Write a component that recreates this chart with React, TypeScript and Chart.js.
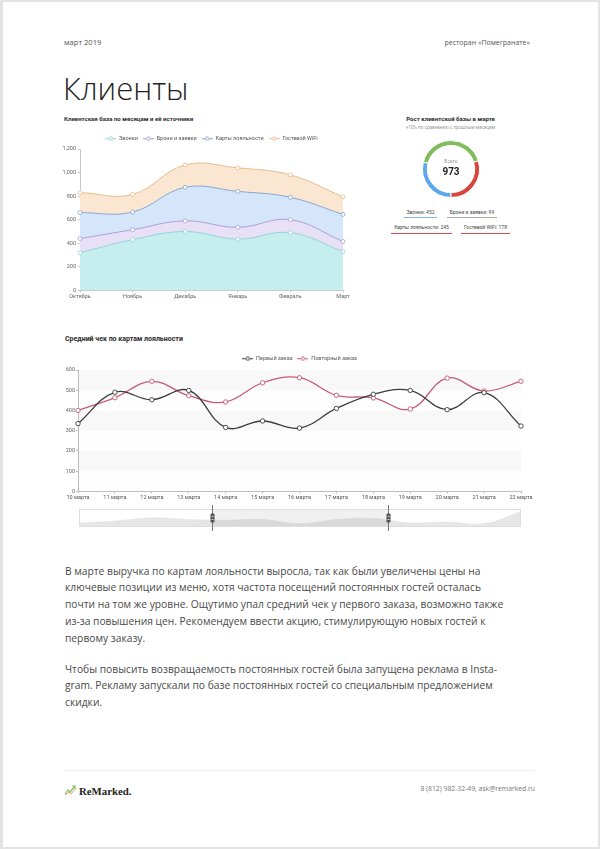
import React, { useEffect, useRef } from 'react';
import { Chart, registerables } from 'chart.js';

Chart.register(...registerables);
Chart.defaults.font.family = 'Roboto, sans-serif';

// ---------- data: area chart ----------
const months = ['Октябрь', 'Ноябрь', 'Декабрь', 'Январь', 'Февраль', 'Март'];
const areaSeriesNames = ['Звонки', 'Брони и заявки', 'Карты лояльности', 'Гостевой WiFi'];
const calls = [320, 430, 500, 435, 490, 330];
const bookings = [120, 85, 90, 100, 110, 85];
const loyaltyCards = [220, 150, 285, 305, 190, 230];
const guestWifi = [170, 150, 190, 200, 190, 150];
const areaYMax = 1200;
const areaYStep = 200;

// ---------- data: doughnut ----------
const donutSegments = [404, 289, 280];
const donutTotalLabel = 'Всего';
const donutTotal = '973';
const donutLegend = ['Звонки: 452', 'Брони и заявки: 99', 'Карты лояльности: 245', 'Гостевой WiFi: 178'];

// ---------- data: line chart ----------
const days = ['10 марта', '11 марта', '12 марта', '13 марта', '14 марта', '15 марта', '16 марта', '17 марта', '18 марта', '19 марта', '20 марта', '21 марта', '22 марта'];
const lineSeriesNames = ['Первый заказ', 'Повторный заказ'];
const firstOrder = [335, 490, 453, 499, 316, 348, 313, 410, 480, 499, 404, 488, 323];
const repeatOrder = [400, 463, 544, 473, 442, 537, 562, 475, 462, 407, 560, 496, 544];
const lineYMax = 600;
const lineYStep = 100;

// ---------- data: zoom slider ----------
const sliderShadow = [12, 18, 27, 22, 20, 22, 10, 22, 25, 12, 15, 10, 45];
const sliderRange = [30, 70];

function makeLegendIcon(color: string) {
  const c = document.createElement('canvas');
  c.width = 11;
  c.height = 5;
  const ctx = c.getContext('2d')!;
  ctx.strokeStyle = color;
  ctx.lineWidth = 1;
  ctx.beginPath();
  ctx.moveTo(0, 2.5);
  ctx.lineTo(11, 2.5);
  ctx.stroke();
  ctx.beginPath();
  ctx.arc(5.5, 2.5, 1.7, 0, Math.PI * 2);
  ctx.fillStyle = '#fff';
  ctx.fill();
  ctx.stroke();
  return c;
}

const legendHeightPlugin = {
  id: 'legendHeight',
  beforeUpdate(chart: any, _a: any, opts: any) {
    const legend = chart.legend;
    if (!legend || legend.__patched || !opts || !opts.height) return;
    const orig = legend.fit;
    legend.fit = function () {
      orig.call(this);
      this.height = opts.height;
    };
    legend.__patched = true;
  },
};

const bandsPlugin = {
  id: 'bands',
  beforeDraw(chart: any, _a: any, opts: any) {
    if (!opts || !opts.colors) return;
    const y = chart.scales.y;
    const { left, right } = chart.chartArea;
    const ctx = chart.ctx;
    ctx.save();
    for (let i = 0; i < y.ticks.length - 1; i++) {
      const b = y.getPixelForValue(y.ticks[i].value);
      const t = y.getPixelForValue(y.ticks[i + 1].value);
      ctx.fillStyle = opts.colors[i % 2];
      ctx.fillRect(left, t, right - left, b - t);
    }
    ctx.restore();
  },
};

const centerTextPlugin = {
  id: 'centerText',
  afterDraw(chart: any, _a: any, opts: any) {
    if (!opts || !opts.value) return;
    const { ctx, chartArea } = chart;
    const cx = (chartArea.left + chartArea.right) / 2;
    const cy = (chartArea.top + chartArea.bottom) / 2;
    ctx.save();
    ctx.textAlign = 'center';
    ctx.textBaseline = 'middle';
    ctx.fillStyle = '#9a9a9a';
    ctx.font = '5px Roboto';
    ctx.fillText(opts.label, cx, cy - 7);
    ctx.fillStyle = '#222';
    ctx.font = 'bold 10px Roboto';
    ctx.fillText(opts.value, cx, cy + 3);
    ctx.restore();
  },
};

const sliderPlugin = {
  id: 'sliderFrame',
  afterDatasetsDraw(chart: any, _a: any, opts: any) {
    if (!opts || opts.start == null) return;
    const { ctx, chartArea: a } = chart;
    const x0 = Math.round(a.left + (a.width * opts.start) / 100) + 0.5;
    const x1 = Math.round(a.left + (a.width * opts.end) / 100) + 0.5;
    const mid = (a.top + a.bottom) / 2;
    ctx.save();
    ctx.fillStyle = 'rgba(0,0,0,0.06)';
    ctx.fillRect(x0, a.top, x1 - x0, a.height);
    ctx.strokeStyle = '#dedede';
    ctx.lineWidth = 1;
    ctx.strokeRect(a.left + 0.5, a.top + 0.5, a.width - 1, a.height - 1);
    for (const x of [x0, x1]) {
      ctx.strokeStyle = '#777';
      ctx.beginPath();
      ctx.moveTo(x, a.top - 4);
      ctx.lineTo(x, a.bottom + 4);
      ctx.stroke();
      ctx.fillStyle = '#555';
      ctx.beginPath();
      ctx.roundRect(x - 2, mid - 4.5, 4, 9, 1);
      ctx.fill();
      ctx.strokeStyle = '#fff';
      ctx.lineWidth = 0.7;
      ctx.beginPath();
      ctx.moveTo(x - 1, mid - 1.5);
      ctx.lineTo(x + 1, mid - 1.5);
      ctx.moveTo(x - 1, mid + 1.5);
      ctx.lineTo(x + 1, mid + 1.5);
      ctx.stroke();
      ctx.lineWidth = 1;
    }
    ctx.restore();
  },
};

const iconLegendLabels = (colors: string[]) => (chart: any) => {
  const items = Chart.defaults.plugins.legend.labels.generateLabels(chart);
  return items.map((it: any, i: number) => ({ ...it, pointStyle: makeLegendIcon(colors[i]) }));
};

const tickFont = { size: 5.5 };

type TxtProps = {
  x: number;
  y: number;
  size: number;
  children: React.ReactNode;
  weight?: number;
  color?: string;
  family?: string;
  align?: 'left' | 'right' | 'center';
  w?: number;
};

function Txt({ x, y, size, children, weight = 400, color = '#444', family = '"Open Sans", sans-serif', align = 'left', w }: TxtProps) {
  const style: React.CSSProperties = {
    position: 'absolute',
    top: y - size * 0.58,
    fontSize: size,
    lineHeight: `${size}px`,
    fontWeight: weight,
    color,
    fontFamily: family,
    whiteSpace: 'nowrap',
  };
  if (align === 'right') {
    style.right = 600 - x;
    style.textAlign = 'right';
  } else if (align === 'center') {
    style.left = x - (w || 200) / 2;
    style.width = w || 200;
    style.textAlign = 'center';
  } else {
    style.left = x;
  }
  return <div style={style}>{children}</div>;
}

export default function App() {
  const areaRef = useRef<HTMLCanvasElement>(null);
  const donutRef = useRef<HTMLCanvasElement>(null);
  const lineRef = useRef<HTMLCanvasElement>(null);
  const sliderRef = useRef<HTMLCanvasElement>(null);

  useEffect(() => {
    const areaLine = ['#93d3d8', '#ab9fd6', '#86a6cf', '#e9bb8e'];
    const areaFill = ['#c6eeee', '#e7e0f6', '#d6e6fa', '#fbe6d1'];
    const areaData = [calls, bookings, loyaltyCards, guestWifi];

    const area = new Chart(areaRef.current!, {
      type: 'line',
      data: {
        labels: months,
        datasets: areaSeriesNames.map((name, i) => ({
          label: name,
          data: areaData[i],
          borderColor: areaLine[i],
          backgroundColor: areaFill[i],
          fill: i === 0 ? 'origin' : '-1',
          borderWidth: 1,
          tension: 0.4,
          pointRadius: 2,
          pointBorderWidth: 0.8,
          pointBackgroundColor: '#fff',
          pointBorderColor: areaLine[i],
        })),
      },
      options: {
        animation: false,
        responsive: false,
        layout: { padding: { left: 0, right: 14, top: 0, bottom: 0 } },
        plugins: {
          legend: {
            position: 'top',
            fullSize: false,
            labels: {
              usePointStyle: true,
              pointStyleWidth: 11,
              padding: 5,
              font: { size: 5.5 },
              color: '#555',
              generateLabels: iconLegendLabels(areaLine),
            },
          },
          tooltip: { enabled: false },
          legendHeight: { height: 18 },
        } as any,
        scales: {
          x: {
            grid: { drawOnChartArea: false, tickLength: 2, color: '#c8c8c8' },
            border: { color: '#c8c8c8' },
            ticks: { font: tickFont, color: '#666', padding: 1, maxRotation: 0, autoSkip: false },
          },
          y: {
            stacked: true,
            min: 0,
            max: areaYMax,
            afterFit: (s: any) => {
              s.width = 23;
            },
            grid: { drawOnChartArea: false, tickLength: 2, color: '#c8c8c8' },
            border: { color: '#c8c8c8' },
            ticks: {
              stepSize: areaYStep,
              font: tickFont,
              color: '#666',
              padding: 2,
              callback: (v: any) => Number(v).toLocaleString('en-US'),
            },
          },
        },
      },
      plugins: [legendHeightPlugin],
    });

    const donut = new Chart(donutRef.current!, {
      type: 'doughnut',
      data: {
        labels: ['green', 'red', 'blue'],
        datasets: [
          {
            data: donutSegments,
            backgroundColor: ['#80bb5c', '#d6463f', '#5da8ea'],
            borderColor: '#fff',
            borderWidth: 1,
          },
        ],
      },
      options: {
        animation: false,
        responsive: false,
        cutout: '83%',
        rotation: -76,
        layout: { padding: 6 },
        plugins: {
          legend: { display: false },
          tooltip: { enabled: false },
          centerText: { label: donutTotalLabel, value: donutTotal },
        } as any,
      },
      plugins: [centerTextPlugin],
    });

    const lineColors = ['#3c3c3c', '#c65b73'];
    const lineData = [firstOrder, repeatOrder];
    const line = new Chart(lineRef.current!, {
      type: 'line',
      data: {
        labels: days,
        datasets: lineSeriesNames.map((name, i) => ({
          label: name,
          data: lineData[i],
          borderColor: lineColors[i],
          backgroundColor: lineColors[i],
          borderWidth: 1.3,
          tension: 0.4,
          fill: false,
          pointRadius: 2.2,
          pointBorderWidth: 0.9,
          pointBackgroundColor: '#fff',
          pointBorderColor: lineColors[i],
        })),
      },
      options: {
        animation: false,
        responsive: false,
        layout: { padding: { left: 0, right: 20, top: 0, bottom: 0 } },
        plugins: {
          legend: {
            position: 'top',
            fullSize: false,
            labels: {
              usePointStyle: true,
              pointStyleWidth: 11,
              padding: 5,
              font: { size: 5.5 },
              color: '#555',
              generateLabels: iconLegendLabels(lineColors),
            },
          },
          tooltip: { enabled: false },
          legendHeight: { height: 19 },
          bands: { colors: ['#fefefe', '#f8f8f8'] },
        } as any,
        scales: {
          x: {
            grid: { drawOnChartArea: false, tickLength: 2, color: '#bdbdbd' },
            border: { color: '#bdbdbd' },
            ticks: { font: tickFont, color: '#555', padding: 1, maxRotation: 0, autoSkip: false },
          },
          y: {
            min: 0,
            max: lineYMax,
            afterFit: (s: any) => {
              s.width = 22;
            },
            grid: { drawOnChartArea: false, tickLength: 2, color: '#bdbdbd' },
            border: { color: '#bdbdbd' },
            ticks: { stepSize: lineYStep, font: tickFont, color: '#666', padding: 1 },
          },
        },
      },
      plugins: [legendHeightPlugin, bandsPlugin],
    });

    const slider = new Chart(sliderRef.current!, {
      type: 'line',
      data: {
        labels: days,
        datasets: [
          {
            data: sliderShadow,
            borderColor: '#e2e2e2',
            backgroundColor: '#e6e6e6',
            borderWidth: 0.5,
            fill: 'origin',
            tension: 0.4,
            pointRadius: 0,
          },
        ],
      },
      options: {
        animation: false,
        responsive: false,
        layout: { padding: { left: 0, right: 0, top: 6, bottom: 6 } },
        plugins: {
          legend: { display: false },
          tooltip: { enabled: false },
          sliderFrame: { start: sliderRange[0], end: sliderRange[1] },
        } as any,
        scales: {
          x: { display: false },
          y: { display: false, min: 0, max: 53 },
        },
      },
      plugins: [sliderPlugin],
    });

    return () => {
      area.destroy();
      donut.destroy();
      line.destroy();
      slider.destroy();
    };
  }, []);

  const legendItem = (text: string, left: number, width: number, top: number, color: string) => (
    <div
      key={text}
      style={{
        position: 'absolute',
        left,
        width,
        top,
        height: 6.4,
        lineHeight: '6.4px',
        fontSize: 5,
        paddingBottom: 2.4,
        borderBottom: `1px solid ${color}`,
        textAlign: 'center',
        color: '#444',
        fontFamily: 'Roboto, sans-serif',
        whiteSpace: 'nowrap',
      }}
    >
      {text}
    </div>
  );

  const para: React.CSSProperties = {
    position: 'absolute',
    left: 65,
    fontFamily: '"Open Sans", sans-serif',
    fontSize: 10.25,
    lineHeight: '16.75px',
    color: '#4a4a4a',
    whiteSpace: 'nowrap',
  };

  return (
    <div style={{ position: 'absolute', left: 0, top: 0, width: 600, height: 849, background: '#fff', overflow: 'hidden' }}>
      <div
        style={{
          position: 'absolute',
          inset: 0,
          borderTop: '2px solid #e3e3e3',
          borderLeft: '3px solid #e3e3e3',
          borderRight: '2px solid #e3e3e3',
          borderBottom: '2px solid #e3e3e3',
          boxSizing: 'border-box',
          pointerEvents: 'none',
        }}
      />
      <Txt x={64} y={43} size={7.6} color="#555">март 2019</Txt>
      <Txt x={530} y={43} size={7.0} color="#555" align="right">ресторан «Помегранате»</Txt>
      <div
        style={{
          position: 'absolute',
          left: 63,
          top: 72.5,
          fontSize: 31,
          lineHeight: '31px',
          fontWeight: 300,
          fontFamily: '"Open Sans", sans-serif',
          color: '#222',
          whiteSpace: 'nowrap',
        }}
      >
        Клиенты
      </div>

      <Txt x={64} y={120} size={6.1} weight={700} color="#2a2a2a" family="Roboto, sans-serif">
        Клиентская база по месяцам и её источники
      </Txt>
      <canvas ref={areaRef} width={300} height={170} style={{ position: 'absolute', left: 57, top: 131, width: 300, height: 170 }} />

      <Txt x={450.5} y={120} size={6.1} weight={700} color="#2a2a2a" family="Roboto, sans-serif" align="center" w={140}>
        Рост клиентской базы в марте
      </Txt>
      <Txt x={450.5} y={129} size={4.6} color="#999" family="Roboto, sans-serif" align="center" w={140}>
        +10% по сравнению с прошлым месяцем
      </Txt>
      <canvas ref={donutRef} width={70} height={70} style={{ position: 'absolute', left: 416, top: 134, width: 70, height: 70 }} />
      {legendItem(donutLegend[0], 404, 33, 208.5, '#82b3e6')}
      {legendItem(donutLegend[1], 447, 50, 208.5, '#a4ad95')}
      {legendItem(donutLegend[2], 391, 61, 224, '#d4524b')}
      {legendItem(donutLegend[3], 461, 49, 224, '#d4524b')}

      <Txt x={65} y={340} size={7.0} weight={700} color="#2a2a2a" family="Roboto, sans-serif">
        Средний чек по картам лояльности
      </Txt>
      <canvas ref={lineRef} width={485} height={151} style={{ position: 'absolute', left: 56, top: 351, width: 485, height: 151 }} />
      <canvas ref={sliderRef} width={442} height={30} style={{ position: 'absolute', left: 79, top: 503, width: 442, height: 30 }} />

      <div style={{ ...para, top: 562.6 }}>
        В марте выручка по картам лояльности выросла, так как были увеличены цены на
        <br />
        ключевые позиции из меню, хотя частота посещений постоянных гостей осталась
        <br />
        почти на том же уровне. Ощутимо упал средний чек у первого заказа, возможно также
        <br />
        из-за повышения цен. Рекомендуем ввести акцию, стимулирующую новых гостей к
        <br />
        первому заказу.
      </div>
      <div style={{ ...para, top: 660.6 }}>
        Чтобы повысить возвращаемость постоянных гостей была запущена реклама в Insta-
        <br />
        gram. Рекламу запускали по базе постоянных гостей со специальным предложением
        <br />
        скидки.
      </div>

      <div style={{ position: 'absolute', left: 64, top: 770, width: 471, height: 1, background: '#eeeeee' }} />
      <svg style={{ position: 'absolute', left: 64, top: 784 }} width={13} height={12} viewBox="0 0 13 12">
        <polyline points="1,10 4,6 6,8 11,2" fill="none" stroke="#7cbf6a" strokeWidth={1.2} />
        <polyline points="1,11 5,8 7,10 12,4" fill="none" stroke="#e9a06b" strokeWidth={1} />
        <polyline points="8,2 11,2 11,5" fill="none" stroke="#7cbf6a" strokeWidth={1.1} />
      </svg>
      <div
        style={{
          position: 'absolute',
          left: 79,
          top: 783.5,
          fontSize: 10.8,
          lineHeight: '14px',
          fontWeight: 700,
          fontFamily: '"Liberation Serif", serif',
          color: '#222',
          whiteSpace: 'nowrap',
        }}
      >
        ReMarked.
      </div>
      <Txt x={535} y={790} size={6.8} color="#777" align="right">8 (812) 982-32-49, ask@remarked.ru</Txt>
    </div>
  );
}
